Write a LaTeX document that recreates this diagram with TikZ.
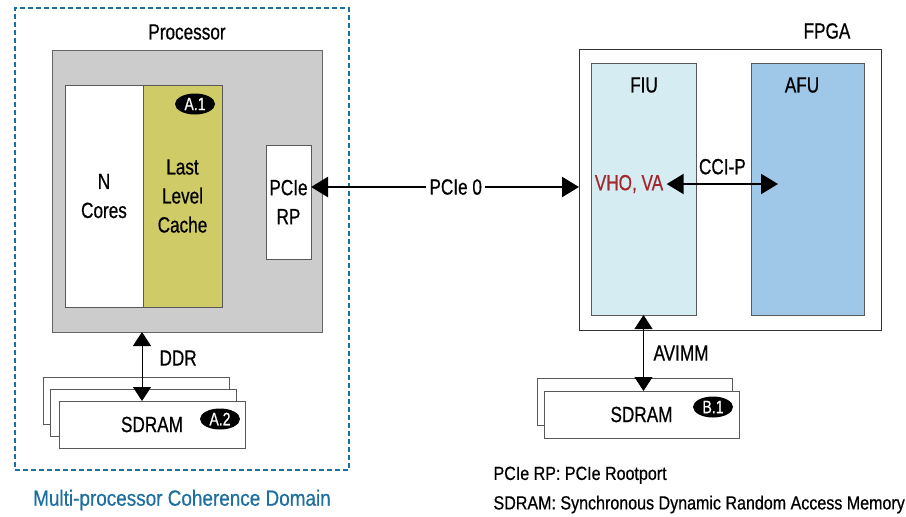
\documentclass[tikz,border=0pt]{standalone}
\usepackage{fontspec}
\setmainfont{Liberation Sans}[FakeStretch=0.78, FakeBold=0.6]
\newfontfamily\wideFont{Liberation Sans}[FakeStretch=0.86, FakeBold=0.6]
\newfontfamily\noteFont{Liberation Sans}[FakeStretch=0.845, FakeBold=0.6]
\usepackage{tikz}
\usetikzlibrary{positioning, shapes.geometric, arrows.meta}
\definecolor{domBlue}{HTML}{1D6FA0}
\definecolor{procGray}{HTML}{CCCCCC}
\definecolor{llcGreen}{HTML}{CFCB66}
\definecolor{fiuBlue}{HTML}{D5ECF3}
\definecolor{afuBlue}{HTML}{9FC8E8}
\definecolor{vhoRed}{HTML}{A3282D}

\begin{document}
\begin{tikzpicture}[x=1pt, y=-1pt,
    every node/.style={font=\fontsize{22}{29}\selectfont},
    blk/.style={draw=black!65, line width=1pt, anchor=north west, inner sep=0pt, outer sep=0pt, align=center},
    tag/.style={ellipse, fill=black, text=white, inner sep=0pt, minimum width=40pt, minimum height=21pt, font=\fontsize{18}{18}\selectfont},
    bus/.style={line width=2.4pt, {Triangle[length=17pt,width=20pt]}-{Triangle[length=17pt,width=20pt]}},
    link/.style={line width=1pt, {Triangle[length=14pt,width=18pt]}-{Triangle[length=14pt,width=18pt]}}]
    \useasboundingbox (0,0) rectangle (906,517);
    % processor side
    \node[blk, draw=domBlue, line width=2.4pt, dash pattern=on 5pt off 3pt, minimum width=334pt, minimum height=462pt] (domain) at (15,8) {};
    \node[blk, fill=procGray, draw=black!60, minimum width=270pt, minimum height=282pt] (proc) at (52,50) {};
    \node (procLabel) at (187,32) {Processor};
    \node[blk, fill=white, minimum width=78pt, minimum height=222pt] (cores) at (65,85) {N\\Cores};
    \node[blk, fill=llcGreen, minimum width=79pt, minimum height=222pt] (llc) at (143,85) {Last\\Level\\Cache};
    \node[tag] (tagA1) at (195,104) {A.1};
    \node[blk, fill=white, minimum width=45pt, minimum height=114pt] (pcieRP) at (266,145) {PCIe\\RP};
    \node[blk, fill=white, minimum width=186pt, minimum height=47pt] (sdramA3) at (43,377) {};
    \node[blk, fill=white, minimum width=186pt, minimum height=47pt] (sdramA2) at (50,389) {};
    \node[blk, fill=white, minimum width=186pt, minimum height=47pt] (sdramA) at (59,401) {SDRAM};
    \node[tag] (tagA2) at (220,419) {A.2};
    \node[anchor=west] (ddrLabel) at (156,358) {DDR};
    \node[text=domBlue, font=\wideFont\fontsize{22}{26}\selectfont] (domLabel) at (182,500) {Multi-processor Coherence Domain};
    % fpga side
    \node[blk, fill=white, draw=black!80, minimum width=302pt, minimum height=281pt] (fpga) at (579,49) {};
    \node (fpgaLabel) at (827,31) {FPGA};
    \node[blk, fill=fiuBlue, minimum width=105pt, minimum height=252pt] (fiu) at (591,63) {};
    \node (fiuLabel) at (644,85) {FIU};
    \node[blk, fill=afuBlue, minimum width=113pt, minimum height=252pt] (afu) at (751,63) {};
    \node (afuLabel) at (802,85) {AFU};
    \node[text=vhoRed] (vhova) at (629,184) {VHO, VA};
    \node[blk, fill=white, minimum width=195pt, minimum height=47pt] (sdramB2) at (537,378) {};
    \node[blk, fill=white, minimum width=195pt, minimum height=47pt] (sdramB) at (544,391) {SDRAM};
    \node[tag] (tagB1) at (713,407) {B.1};
    \node[anchor=west] (avimmLabel) at (650,353) {AVIMM};
    \node[anchor=west, align=left, font=\noteFont\fontsize{19}{29.5}\selectfont] (legend) at (490,490) {PCIe RP: PCIe Rootport\\SDRAM: Synchronous Dynamic Random Access Memory};
    \draw[bus] ([yshift=15pt]pcieRP.east) -- ([yshift=15pt]pcieRP.east -| fpga.west) node[pos=0.54, fill=white, inner sep=3pt] (pcieLabel) {PCIe 0};
    \draw[bus] (vhova.east) -- ([xshift=27pt]afu.west |- vhova.east) node[midway, above=5pt] (cciLabel) {CCI-P};
    \draw[link] ([xshift=-10pt]sdramA.north) -- ([xshift=-10pt]sdramA.north |- proc.south);
    \draw[link] (fiu.south) -- (fiu.south |- sdramB.north);
\end{tikzpicture}
\end{document}
